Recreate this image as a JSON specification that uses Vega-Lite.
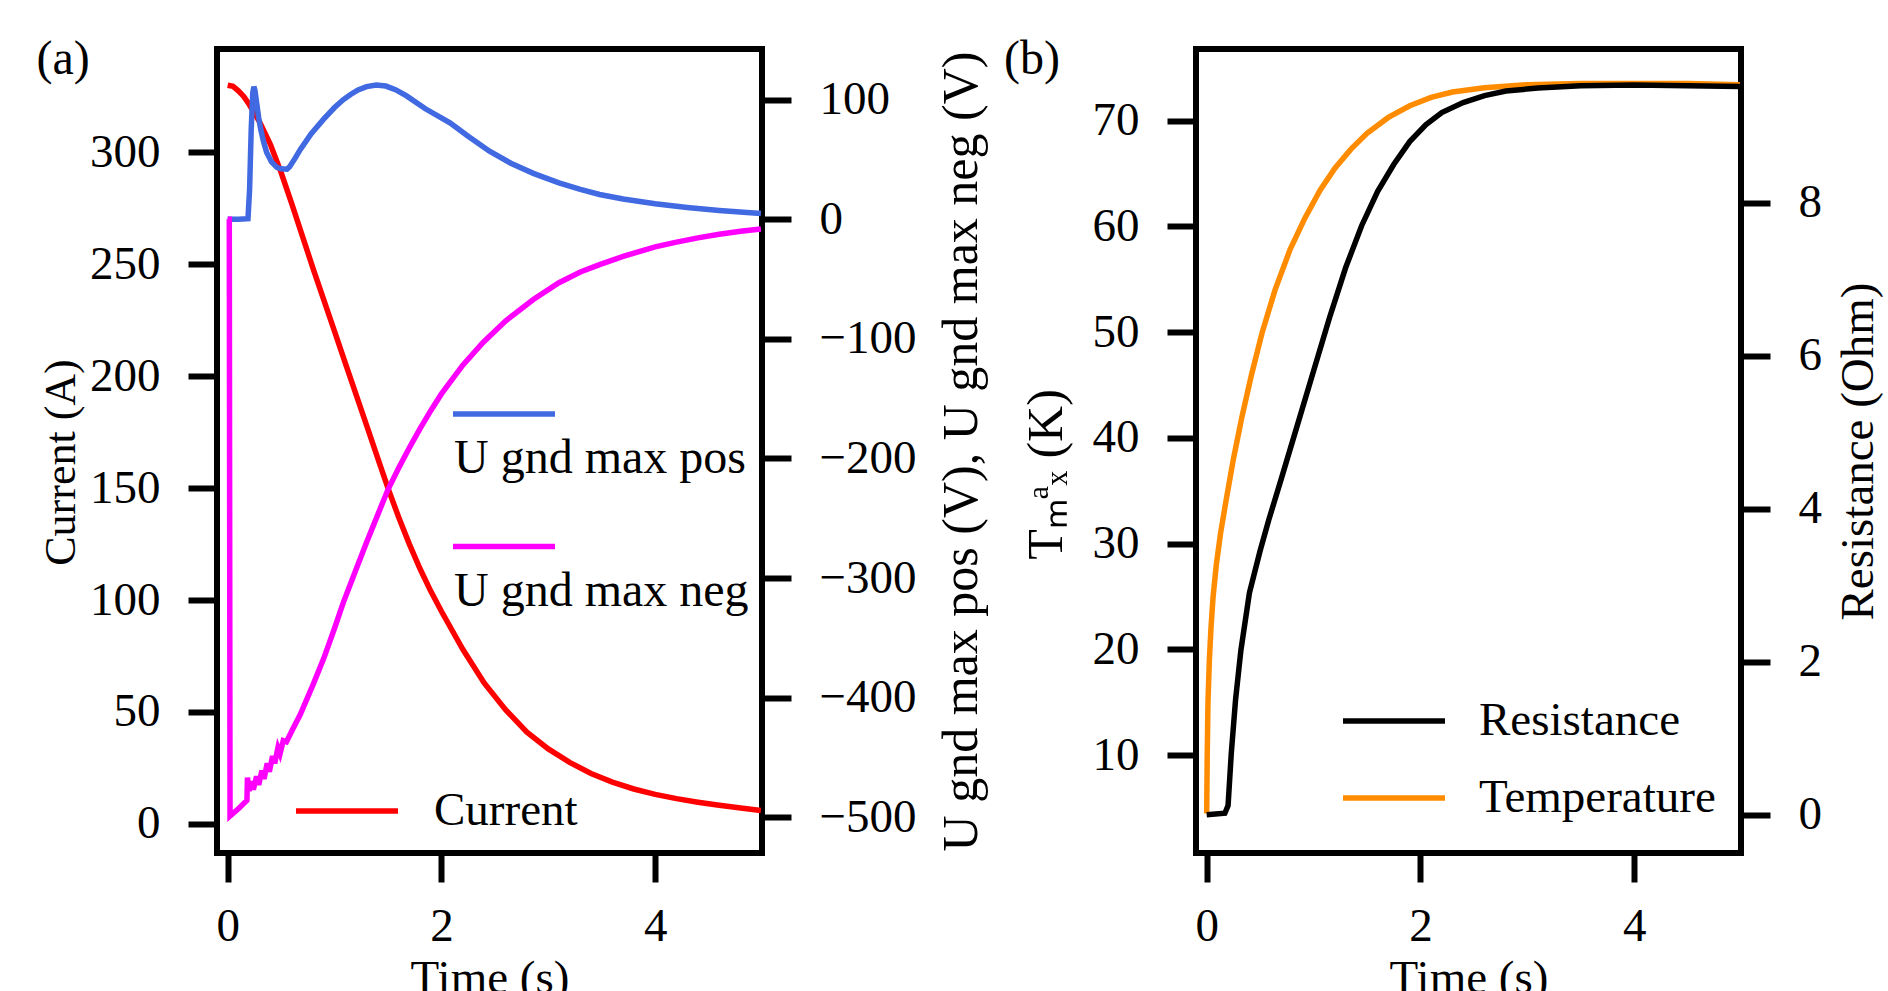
{
  "$schema": "https://vega.github.io/schema/vega-lite/v6.json",
  "background": "white",
  "padding": {"left": 33, "top": 33, "right": 5, "bottom": 0},
  "spacing": 434,
  "bounds": "flush",
  "datasets": {
    "current": [
      {"series": "Current", "t": 0, "v": 330}, {"series": "Current", "t": 0.05, "v": 329.5}, {"series": "Current", "t": 0.1, "v": 327.5},
      {"series": "Current", "t": 0.15, "v": 325}, {"series": "Current", "t": 0.2, "v": 321.5}, {"series": "Current", "t": 0.3, "v": 313.5},
      {"series": "Current", "t": 0.4, "v": 303.5}, {"series": "Current", "t": 0.5, "v": 291}, {"series": "Current", "t": 0.6, "v": 277},
      {"series": "Current", "t": 0.7, "v": 262.5}, {"series": "Current", "t": 0.8, "v": 248}, {"series": "Current", "t": 0.9, "v": 234},
      {"series": "Current", "t": 1.0, "v": 220}, {"series": "Current", "t": 1.1, "v": 206}, {"series": "Current", "t": 1.2, "v": 192},
      {"series": "Current", "t": 1.3, "v": 178}, {"series": "Current", "t": 1.4, "v": 164}, {"series": "Current", "t": 1.5, "v": 150},
      {"series": "Current", "t": 1.6, "v": 137}, {"series": "Current", "t": 1.7, "v": 125}, {"series": "Current", "t": 1.8, "v": 114},
      {"series": "Current", "t": 1.9, "v": 104}, {"series": "Current", "t": 2.0, "v": 95}, {"series": "Current", "t": 2.2, "v": 78},
      {"series": "Current", "t": 2.4, "v": 63}, {"series": "Current", "t": 2.6, "v": 51}, {"series": "Current", "t": 2.8, "v": 41},
      {"series": "Current", "t": 3.0, "v": 33.5}, {"series": "Current", "t": 3.2, "v": 27.5}, {"series": "Current", "t": 3.4, "v": 22.5},
      {"series": "Current", "t": 3.6, "v": 18.7}, {"series": "Current", "t": 3.8, "v": 15.6}, {"series": "Current", "t": 4.0, "v": 13.2},
      {"series": "Current", "t": 4.2, "v": 11.3}, {"series": "Current", "t": 4.4, "v": 9.7}, {"series": "Current", "t": 4.6, "v": 8.3},
      {"series": "Current", "t": 4.8, "v": 7.1}, {"series": "Current", "t": 4.99, "v": 6.0}
    ],
    "uvolt": [
      {"series": "U gnd max pos", "t": 0, "v": 0}, {"series": "U gnd max pos", "t": 0.1, "v": 0}, {"series": "U gnd max pos", "t": 0.19, "v": 0.5},
      {"series": "U gnd max pos", "t": 0.205, "v": 25}, {"series": "U gnd max pos", "t": 0.22, "v": 75}, {"series": "U gnd max pos", "t": 0.235, "v": 106},
      {"series": "U gnd max pos", "t": 0.245, "v": 111}, {"series": "U gnd max pos", "t": 0.255, "v": 108}, {"series": "U gnd max pos", "t": 0.27, "v": 98},
      {"series": "U gnd max pos", "t": 0.29, "v": 85}, {"series": "U gnd max pos", "t": 0.31, "v": 75}, {"series": "U gnd max pos", "t": 0.335, "v": 65},
      {"series": "U gnd max pos", "t": 0.365, "v": 56}, {"series": "U gnd max pos", "t": 0.41, "v": 48}, {"series": "U gnd max pos", "t": 0.46, "v": 43.5},
      {"series": "U gnd max pos", "t": 0.5, "v": 42.3}, {"series": "U gnd max pos", "t": 0.555, "v": 42}, {"series": "U gnd max pos", "t": 0.58, "v": 44},
      {"series": "U gnd max pos", "t": 0.63, "v": 51}, {"series": "U gnd max pos", "t": 0.68, "v": 58.5}, {"series": "U gnd max pos", "t": 0.78, "v": 71.5},
      {"series": "U gnd max pos", "t": 0.9, "v": 84}, {"series": "U gnd max pos", "t": 1.0, "v": 93.5}, {"series": "U gnd max pos", "t": 1.08, "v": 100},
      {"series": "U gnd max pos", "t": 1.15, "v": 104.5}, {"series": "U gnd max pos", "t": 1.22, "v": 108.3}, {"series": "U gnd max pos", "t": 1.3, "v": 111},
      {"series": "U gnd max pos", "t": 1.39, "v": 112.3}, {"series": "U gnd max pos", "t": 1.48, "v": 111.5}, {"series": "U gnd max pos", "t": 1.57, "v": 108.5},
      {"series": "U gnd max pos", "t": 1.67, "v": 103.5}, {"series": "U gnd max pos", "t": 1.85, "v": 92.5}, {"series": "U gnd max pos", "t": 2.08, "v": 80.8},
      {"series": "U gnd max pos", "t": 2.25, "v": 69.5}, {"series": "U gnd max pos", "t": 2.45, "v": 57}, {"series": "U gnd max pos", "t": 2.65, "v": 47},
      {"series": "U gnd max pos", "t": 2.86, "v": 38.5}, {"series": "U gnd max pos", "t": 3.1, "v": 30.5}, {"series": "U gnd max pos", "t": 3.3, "v": 25},
      {"series": "U gnd max pos", "t": 3.48, "v": 20.8}, {"series": "U gnd max pos", "t": 3.7, "v": 17}, {"series": "U gnd max pos", "t": 4.0, "v": 13},
      {"series": "U gnd max pos", "t": 4.3, "v": 10}, {"series": "U gnd max pos", "t": 4.6, "v": 7.5}, {"series": "U gnd max pos", "t": 4.99, "v": 5},
      {"series": "U gnd max neg", "t": 0, "v": 0}, {"series": "U gnd max neg", "t": 0.015, "v": 0}, {"series": "U gnd max neg", "t": 0.022, "v": -499},
      {"series": "U gnd max neg", "t": 0.1, "v": -493}, {"series": "U gnd max neg", "t": 0.18, "v": -486}, {"series": "U gnd max neg", "t": 0.185, "v": -467},
      {"series": "U gnd max neg", "t": 0.2, "v": -478}, {"series": "U gnd max neg", "t": 0.22, "v": -470}, {"series": "U gnd max neg", "t": 0.24, "v": -477},
      {"series": "U gnd max neg", "t": 0.27, "v": -466}, {"series": "U gnd max neg", "t": 0.29, "v": -473}, {"series": "U gnd max neg", "t": 0.32, "v": -461},
      {"series": "U gnd max neg", "t": 0.34, "v": -468}, {"series": "U gnd max neg", "t": 0.37, "v": -455}, {"series": "U gnd max neg", "t": 0.39, "v": -462},
      {"series": "U gnd max neg", "t": 0.42, "v": -449}, {"series": "U gnd max neg", "t": 0.44, "v": -455}, {"series": "U gnd max neg", "t": 0.47, "v": -442},
      {"series": "U gnd max neg", "t": 0.49, "v": -447}, {"series": "U gnd max neg", "t": 0.52, "v": -436}, {"series": "U gnd max neg", "t": 0.55, "v": -437},
      {"series": "U gnd max neg", "t": 0.6, "v": -428}, {"series": "U gnd max neg", "t": 0.68, "v": -414}, {"series": "U gnd max neg", "t": 0.8, "v": -389},
      {"series": "U gnd max neg", "t": 0.9, "v": -367}, {"series": "U gnd max neg", "t": 1.0, "v": -342}, {"series": "U gnd max neg", "t": 1.08, "v": -321},
      {"series": "U gnd max neg", "t": 1.2, "v": -293}, {"series": "U gnd max neg", "t": 1.3, "v": -270}, {"series": "U gnd max neg", "t": 1.4, "v": -248},
      {"series": "U gnd max neg", "t": 1.5, "v": -226}, {"series": "U gnd max neg", "t": 1.6, "v": -208}, {"series": "U gnd max neg", "t": 1.7, "v": -191},
      {"series": "U gnd max neg", "t": 1.8, "v": -175}, {"series": "U gnd max neg", "t": 1.9, "v": -160}, {"series": "U gnd max neg", "t": 2.0, "v": -146},
      {"series": "U gnd max neg", "t": 2.2, "v": -122}, {"series": "U gnd max neg", "t": 2.39, "v": -103}, {"series": "U gnd max neg", "t": 2.6, "v": -85},
      {"series": "U gnd max neg", "t": 2.86, "v": -67}, {"series": "U gnd max neg", "t": 3.1, "v": -53}, {"series": "U gnd max neg", "t": 3.3, "v": -44},
      {"series": "U gnd max neg", "t": 3.48, "v": -37.9}, {"series": "U gnd max neg", "t": 3.7, "v": -31}, {"series": "U gnd max neg", "t": 4.0, "v": -23},
      {"series": "U gnd max neg", "t": 4.2, "v": -19}, {"series": "U gnd max neg", "t": 4.4, "v": -15.5}, {"series": "U gnd max neg", "t": 4.6, "v": -12.5},
      {"series": "U gnd max neg", "t": 4.8, "v": -10}, {"series": "U gnd max neg", "t": 4.99, "v": -8}
    ],
    "temperature": [
      {"series": "Temperature", "t": 0, "v": 4.5}, {"series": "Temperature", "t": 0.005, "v": 10}, {"series": "Temperature", "t": 0.012, "v": 15},
      {"series": "Temperature", "t": 0.025, "v": 19}, {"series": "Temperature", "t": 0.04, "v": 22}, {"series": "Temperature", "t": 0.06, "v": 25},
      {"series": "Temperature", "t": 0.09, "v": 28}, {"series": "Temperature", "t": 0.13, "v": 31}, {"series": "Temperature", "t": 0.18, "v": 34},
      {"series": "Temperature", "t": 0.25, "v": 38}, {"series": "Temperature", "t": 0.33, "v": 42}, {"series": "Temperature", "t": 0.42, "v": 46},
      {"series": "Temperature", "t": 0.52, "v": 50}, {"series": "Temperature", "t": 0.64, "v": 54}, {"series": "Temperature", "t": 0.78, "v": 57.8},
      {"series": "Temperature", "t": 0.92, "v": 60.8}, {"series": "Temperature", "t": 1.06, "v": 63.4}, {"series": "Temperature", "t": 1.2, "v": 65.5},
      {"series": "Temperature", "t": 1.35, "v": 67.3}, {"series": "Temperature", "t": 1.5, "v": 68.8}, {"series": "Temperature", "t": 1.7, "v": 70.3},
      {"series": "Temperature", "t": 1.9, "v": 71.4}, {"series": "Temperature", "t": 2.1, "v": 72.2}, {"series": "Temperature", "t": 2.3, "v": 72.7},
      {"series": "Temperature", "t": 2.6, "v": 73.1}, {"series": "Temperature", "t": 3.0, "v": 73.4}, {"series": "Temperature", "t": 3.5, "v": 73.5},
      {"series": "Temperature", "t": 4.0, "v": 73.5}, {"series": "Temperature", "t": 4.5, "v": 73.5}, {"series": "Temperature", "t": 4.99, "v": 73.4}
    ],
    "resistance": [
      {"series": "Resistance", "t": 0, "v": 0}, {"series": "Resistance", "t": 0.17, "v": 0.02}, {"series": "Resistance", "t": 0.2, "v": 0.12},
      {"series": "Resistance", "t": 0.23, "v": 0.8}, {"series": "Resistance", "t": 0.27, "v": 1.5}, {"series": "Resistance", "t": 0.32, "v": 2.15},
      {"series": "Resistance", "t": 0.4, "v": 2.9}, {"series": "Resistance", "t": 0.5, "v": 3.45}, {"series": "Resistance", "t": 0.58, "v": 3.85},
      {"series": "Resistance", "t": 0.7, "v": 4.4}, {"series": "Resistance", "t": 0.85, "v": 5.1}, {"series": "Resistance", "t": 1.0, "v": 5.8},
      {"series": "Resistance", "t": 1.15, "v": 6.5}, {"series": "Resistance", "t": 1.3, "v": 7.15}, {"series": "Resistance", "t": 1.45, "v": 7.7},
      {"series": "Resistance", "t": 1.6, "v": 8.15}, {"series": "Resistance", "t": 1.75, "v": 8.5}, {"series": "Resistance", "t": 1.9, "v": 8.8},
      {"series": "Resistance", "t": 2.05, "v": 9.02}, {"series": "Resistance", "t": 2.2, "v": 9.18}, {"series": "Resistance", "t": 2.4, "v": 9.31},
      {"series": "Resistance", "t": 2.6, "v": 9.4}, {"series": "Resistance", "t": 2.8, "v": 9.46}, {"series": "Resistance", "t": 3.1, "v": 9.5},
      {"series": "Resistance", "t": 3.5, "v": 9.53}, {"series": "Resistance", "t": 4.0, "v": 9.54}, {"series": "Resistance", "t": 4.5, "v": 9.53},
      {"series": "Resistance", "t": 4.99, "v": 9.52}
    ]
  },
  "hconcat": [
    {
      "width": 545,
      "height": 804,
      "title": {"text": "(a)", "anchor": "start", "frame": "bounds", "orient": "top", "offset": -32, "dy": 41, "baseline": "alphabetic", "fontSize": 48, "font": "Liberation Serif", "fontWeight": "normal", "color": "black", "dx": -3},
      "layer": [
        {
          "data": {"name": "current"},
          "mark": {"type": "line", "strokeWidth": 5.5},
          "encoding": {
            "x": {"field": "t", "type": "quantitative", "scale": {"domain": [-0.1, 5], "nice": false, "zero": false}, "axis": {"title": "Time (s)", "values": [0, 2, 4]}},
            "y": {"field": "v", "type": "quantitative", "scale": {"domain": [-13, 346.2], "nice": false, "zero": false}, "axis": {"title": "Current (A)", "orient": "left", "values": [0, 50, 100, 150, 200, 250, 300], "titlePadding": 6, "titleFontSize": 44, "titleY": 413}},
            "color": {"field": "series", "type": "nominal", "scale": {"domain": ["Current"], "range": ["#ff0000"]},
              "legend": {"orient": "none", "legendX": 76, "legendY": 708, "title": null, "symbolType": "stroke", "symbolSize": 10404, "symbolStrokeWidth": 5.5, "labelOffset": 33, "labelFontSize": 47, "labelLimit": 0}}
          }
        },
        {
          "data": {"name": "uvolt"},
          "mark": {"type": "line", "strokeWidth": 5.5},
          "encoding": {
            "x": {"field": "t", "type": "quantitative", "scale": {"domain": [-0.1, 5], "nice": false, "zero": false}, "axis": {"title": "Time (s)", "values": [0, 2, 4]}},
            "y": {"field": "v", "type": "quantitative", "scale": {"domain": [-530, 142.5], "nice": false, "zero": false}, "axis": {"title": "U gnd max pos (V), U gnd max neg (V)", "orient": "right", "values": [-500, -400, -300, -200, -100, 0, 100], "titleAngle": -90, "titleBaseline": "top", "titlePadding": 20, "titleFontSize": 50}},
            "color": {"field": "series", "type": "nominal", "scale": {"domain": ["U gnd max pos", "U gnd max neg"], "range": ["#4169e1", "#ff00ff"]},
              "legend": {"orient": "none", "legendX": 233, "legendY": 311, "title": null, "symbolType": "stroke", "symbolSize": 10404, "symbolStrokeWidth": 5.5, "labelOffset": 0, "labelFontSize": 48, "labelLimit": 0, "rowPadding": 9.5,
                "encode": {"labels": {"update": {"dx": {"value": -104}, "dy": {"value": 45}}}}}}
          }
        }
      ],
      "resolve": {"scale": {"y": "independent", "color": "independent"}}
    },
    {
      "width": 545,
      "height": 804,
      "title": {"text": "(b)", "anchor": "start", "frame": "bounds", "orient": "top", "offset": -32, "dy": 41, "baseline": "alphabetic", "fontSize": 48, "font": "Liberation Serif", "fontWeight": "normal", "color": "black", "dx": -17},
      "layer": [
        {
          "data": {"name": "temperature"},
          "mark": {"type": "line", "strokeWidth": 5.5},
          "encoding": {
            "x": {"field": "t", "type": "quantitative", "scale": {"domain": [-0.1, 5], "nice": false, "zero": false}, "axis": {"title": "Time (s)", "values": [0, 2, 4]}},
            "y": {"field": "v", "type": "quantitative", "scale": {"domain": [0.76, 76.77], "nice": false, "zero": false}, "axis": {"title": "Tₘᵃₓ (K)", "orient": "left", "values": [10, 20, 30, 40, 50, 60, 70], "titlePadding": 21, "titleFontSize": 50, "titleY": 425}},
            "color": {"field": "series", "type": "nominal", "scale": {"domain": ["Resistance", "Temperature"], "range": ["#000000", "#ff8c00"]},
              "legend": {"orient": "none", "legendX": 1123, "legendY": 618, "title": null, "symbolType": "stroke", "symbolSize": 10404, "symbolStrokeWidth": 5.5, "labelOffset": 31, "labelFontSize": 47, "labelLimit": 0, "rowPadding": -31}}
          }
        },
        {
          "data": {"name": "resistance"},
          "mark": {"type": "line", "strokeWidth": 5.5},
          "encoding": {
            "x": {"field": "t", "type": "quantitative", "scale": {"domain": [-0.1, 5], "nice": false, "zero": false}, "axis": {"title": "Time (s)", "values": [0, 2, 4]}},
            "y": {"field": "v", "type": "quantitative", "scale": {"domain": [-0.5, 10.01], "nice": false, "zero": false}, "axis": {"title": "Resistance (Ohm)", "orient": "right", "values": [0, 2, 4, 6, 8], "titleAngle": -90, "titleBaseline": "top", "titlePadding": 14}},
            "color": {"field": "series", "type": "nominal", "scale": {"domain": ["Resistance", "Temperature"], "range": ["#000000", "#ff8c00"]},
              "legend": {"orient": "none", "legendX": 1123, "legendY": 618, "title": null, "symbolType": "stroke", "symbolSize": 10404, "symbolStrokeWidth": 5.5, "labelOffset": 31, "labelFontSize": 47, "labelLimit": 0, "rowPadding": -31}}
          }
        }
      ],
      "resolve": {"scale": {"y": "independent"}}
    }
  ],
  "config": {
    "font": "Liberation Serif",
    "view": {"stroke": "black", "strokeWidth": 6},
    "axis": {
      "domain": false, "grid": false, "ticks": true, "tickColor": "black", "tickWidth": 6, "tickSize": 29,
      "labelFont": "Liberation Serif", "labelFontSize": 47, "labelColor": "black", "labelOverlap": false, "labelFlush": false, "labelBound": false,
      "titleFont": "Liberation Serif", "titleFontSize": 47, "titleFontWeight": "normal", "titleColor": "black"
    },
    "axisX": {"labelPadding": 21, "titlePadding": 6},
    "axisY": {"labelPadding": 28},
    "legend": {"labelFont": "Liberation Serif", "labelColor": "black", "padding": 0}
  }
}
